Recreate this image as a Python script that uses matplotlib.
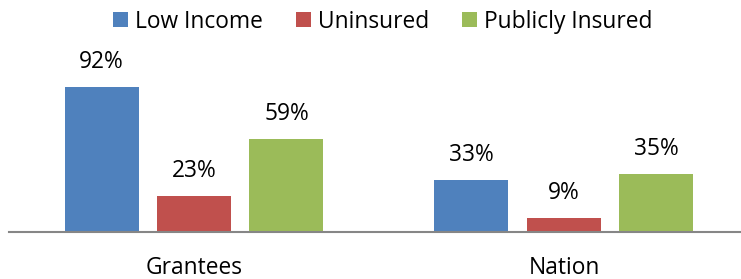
import matplotlib
matplotlib.use("Agg")
import matplotlib.pyplot as plt
import matplotlib.transforms as mtransforms
import numpy as np

plt.rcParams['font.family'] = ['Open Sans', 'DejaVu Sans']

groups = ["Grantees", "Nation"]
series = ["Low Income", "Uninsured", "Publicly Insured"]
# bar heights as drawn in the picture, labels as printed
low_income = [92, 33]
uninsured = [23, 9]
publicly_insured = [59, 37]
low_income_lbl = ["92%", "33%"]
uninsured_lbl = ["23%", "9%"]
publicly_insured_lbl = ["59%", "35%"]
colors = ["#4F81BD", "#C0504D", "#9BBB59"]


def draw_chart(fs=16.4):
    fig = plt.figure(figsize=(7.41, 2.79), dpi=100)
    W, H = 741, 279
    ax = fig.add_axes([9 / W, 47 / H, 740 / W, 192 / H])

    centers = np.array([0, 4])
    values = [low_income, uninsured, publicly_insured]
    labels = [low_income_lbl, uninsured_lbl, publicly_insured_lbl]
    for i, (name, vals, lbls) in enumerate(zip(series, values, labels)):
        xs = centers + (i - 1)
        ax.bar(xs, vals, width=0.8, color=colors[i], label=name, zorder=2)
        for x, v, t in zip(xs, vals, lbls):
            ax.annotate(t, xy=(x, v), xytext=(0, 13.7),
                        textcoords="offset points", ha="center", va="baseline",
                        fontsize=fs, color="black")

    ax.set_xlim(-2, 6)
    ax.set_ylim(0, 192 / 1.576)
    for s in ["top", "left", "right"]:
        ax.spines[s].set_visible(False)
    ax.spines["bottom"].set_color("#868686")
    ax.spines["bottom"].set_linewidth(1.5)
    ax.spines["bottom"].set_zorder(3)
    ax.set_yticks([])
    ax.set_xticks([])

    trans = mtransforms.blended_transform_factory(ax.transData, ax.transAxes)
    for c, g in zip(centers, groups):
        ax.annotate(g, xy=(c, 0), xycoords=trans, xytext=(0, -30.2),
                    textcoords="offset points", ha="center", va="baseline",
                    fontsize=fs, color="black")

    fig.legend(loc="center", bbox_to_anchor=(383 / W, 1 - 21.5 / H), ncol=3,
               frameon=False, fontsize=fs, handlelength=0.66, handleheight=0.66,
               handletextpad=0.31, columnspacing=1.45, borderpad=0, borderaxespad=0)
    return fig


if __name__ == "__main__":
    fig = draw_chart()
    fig.savefig("out.png", dpi=100)
